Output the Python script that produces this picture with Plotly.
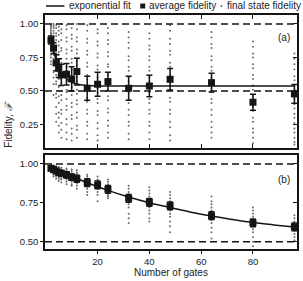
import plotly.graph_objects as go

# ---------------- data ----------------
gates = [2, 3, 4, 5, 6, 8, 10, 12, 16, 20, 24, 32, 40, 48, 64, 80, 96]

# panel (a): average fidelity and error
avg_a = [0.88, 0.82, 0.71, 0.67, 0.62, 0.625, 0.59, 0.645, 0.52, 0.55, 0.57, 0.52, 0.537, 0.587, 0.562, 0.416, 0.478]
err_a = [0.03, 0.04, 0.06, 0.07, 0.08, 0.08, 0.09, 0.10, 0.09, 0.09, 0.07, 0.09, 0.08, 0.08, 0.07, 0.06, 0.07]

# panel (b): average fidelity and error
avg_b = [0.972, 0.965, 0.955, 0.945, 0.94, 0.93, 0.915, 0.905, 0.88, 0.865, 0.837, 0.779, 0.753, 0.731, 0.667, 0.621, 0.596]
err_b = [0.012, 0.014, 0.016, 0.018, 0.018, 0.02, 0.02, 0.022, 0.025, 0.025, 0.025, 0.025, 0.025, 0.025, 0.025, 0.025, 0.025]

# exponential fit curves
fit_a_x = [2, 3, 4, 5, 6, 7, 8, 10, 12, 14, 16, 20, 24, 32, 40, 48, 64, 80, 96]
fit_a_y = [0.88, 0.80, 0.73, 0.68, 0.64, 0.61, 0.59, 0.565, 0.552, 0.545, 0.541, 0.538, 0.537, 0.537, 0.537, 0.537, 0.537, 0.537, 0.537]
fit_b_x = [2, 4, 6, 8, 12, 16, 20, 24, 32, 40, 48, 56, 64, 72, 80, 88, 96]
fit_b_y = [0.982, 0.966, 0.951, 0.935, 0.906, 0.879, 0.854, 0.830, 0.787, 0.750, 0.720, 0.690, 0.665, 0.643, 0.623, 0.608, 0.594]

# final state fidelities, one list per gate count
final_a = [
    [1.00, 0.99, 0.98, 0.97, 0.955, 0.94, 0.93, 0.92, 0.90, 0.89, 0.87, 0.86, 0.84, 0.82, 0.80, 0.77, 0.75, 0.72, 0.70],
    [1.00, 0.985, 0.97, 0.95, 0.93, 0.91, 0.90, 0.87, 0.85, 0.82, 0.80, 0.78, 0.74, 0.71, 0.69, 0.64, 0.60, 0.55, 0.47],
    [0.99, 0.97, 0.93, 0.91, 0.88, 0.84, 0.82, 0.78, 0.76, 0.72, 0.70, 0.65, 0.62, 0.57, 0.55, 0.48, 0.45, 0.38, 0.33, 0.27],
    [0.98, 0.95, 0.92, 0.87, 0.84, 0.79, 0.77, 0.72, 0.69, 0.66, 0.61, 0.59, 0.53, 0.50, 0.46, 0.41, 0.34, 0.30, 0.24, 0.19],
    [1.00, 0.96, 0.93, 0.88, 0.82, 0.80, 0.74, 0.71, 0.68, 0.62, 0.59, 0.56, 0.50, 0.47, 0.43, 0.36, 0.33, 0.26, 0.21, 0.15],
    [0.99, 0.96, 0.90, 0.87, 0.81, 0.78, 0.74, 0.68, 0.65, 0.60, 0.57, 0.51, 0.49, 0.44, 0.39, 0.36, 0.29, 0.25, 0.19, 0.14],
    [0.97, 0.92, 0.89, 0.83, 0.80, 0.74, 0.71, 0.66, 0.61, 0.59, 0.53, 0.50, 0.47, 0.41, 0.38, 0.32, 0.29, 0.22, 0.18, 0.13],
    [1.00, 0.96, 0.90, 0.87, 0.81, 0.78, 0.72, 0.69, 0.63, 0.60, 0.57, 0.51, 0.48, 0.43, 0.40, 0.34, 0.30, 0.24, 0.21, 0.15],
    [0.99, 0.95, 0.89, 0.86, 0.80, 0.77, 0.71, 0.68, 0.62, 0.59, 0.53, 0.50, 0.45, 0.42, 0.36, 0.33, 0.27, 0.24, 0.18, 0.14],
    [0.96, 0.93, 0.87, 0.84, 0.78, 0.75, 0.69, 0.66, 0.60, 0.57, 0.52, 0.49, 0.44, 0.41, 0.35, 0.32, 0.26, 0.22, 0.17, 0.13],
    [0.97, 0.93, 0.88, 0.85, 0.79, 0.76, 0.70, 0.68, 0.62, 0.59, 0.54, 0.51, 0.46, 0.43, 0.37, 0.34, 0.28, 0.24, 0.19, 0.15],
    [0.94, 0.90, 0.86, 0.82, 0.76, 0.73, 0.68, 0.65, 0.60, 0.57, 0.52, 0.49, 0.44, 0.41, 0.36, 0.32, 0.27, 0.24, 0.18, 0.14],
    [0.93, 0.89, 0.84, 0.81, 0.76, 0.73, 0.68, 0.65, 0.60, 0.57, 0.52, 0.49, 0.44, 0.41, 0.36, 0.33, 0.27, 0.24, 0.19, 0.14],
    [0.99, 0.95, 0.89, 0.85, 0.80, 0.77, 0.71, 0.68, 0.62, 0.59, 0.54, 0.51, 0.45, 0.42, 0.36, 0.33, 0.27, 0.23, 0.17, 0.13],
    [0.94, 0.90, 0.85, 0.82, 0.76, 0.73, 0.68, 0.65, 0.60, 0.57, 0.52, 0.49, 0.44, 0.41, 0.36, 0.32, 0.27, 0.23, 0.19, 0.15],
    [0.87, 0.83, 0.78, 0.75, 0.70, 0.67, 0.62, 0.59, 0.54, 0.51, 0.46, 0.43, 0.38, 0.35, 0.30, 0.27, 0.22, 0.19, 0.15, 0.11],
    [0.78, 0.74, 0.70, 0.66, 0.61, 0.58, 0.54, 0.51, 0.47, 0.44, 0.40, 0.37, 0.33, 0.30, 0.26, 0.22, 0.19, 0.15, 0.12, 0.10],
]
final_b = [
    [0.995, 0.99, 0.985, 0.98, 0.975, 0.97, 0.965, 0.96, 0.955, 0.945],
    [0.99, 0.985, 0.975, 0.97, 0.96, 0.955, 0.95, 0.94, 0.93, 0.92],
    [0.985, 0.975, 0.97, 0.96, 0.955, 0.945, 0.94, 0.93, 0.92, 0.905],
    [0.98, 0.97, 0.96, 0.955, 0.945, 0.935, 0.925, 0.915, 0.905, 0.89],
    [0.975, 0.965, 0.955, 0.945, 0.94, 0.93, 0.92, 0.91, 0.90, 0.88],
    [0.97, 0.96, 0.95, 0.94, 0.93, 0.92, 0.91, 0.90, 0.885, 0.87],
    [0.965, 0.955, 0.94, 0.93, 0.92, 0.91, 0.90, 0.885, 0.87, 0.86],
    [0.96, 0.945, 0.935, 0.92, 0.91, 0.90, 0.89, 0.875, 0.86, 0.84],
    [0.93, 0.92, 0.905, 0.89, 0.88, 0.87, 0.855, 0.84, 0.82, 0.80],
    [0.92, 0.90, 0.89, 0.875, 0.865, 0.85, 0.84, 0.82, 0.80, 0.76],
    [0.90, 0.885, 0.87, 0.86, 0.845, 0.83, 0.815, 0.80, 0.79, 0.78],
    [0.86, 0.84, 0.82, 0.805, 0.79, 0.775, 0.76, 0.74, 0.72, 0.68, 0.65, 0.62],
    [0.85, 0.83, 0.81, 0.79, 0.77, 0.755, 0.74, 0.72, 0.70, 0.68, 0.65, 0.63],
    [0.82, 0.80, 0.78, 0.76, 0.74, 0.72, 0.70, 0.68, 0.66, 0.63, 0.60, 0.56],
    [0.79, 0.76, 0.74, 0.72, 0.70, 0.68, 0.66, 0.64, 0.62, 0.59, 0.56, 0.52],
    [0.72, 0.70, 0.68, 0.66, 0.64, 0.62, 0.60, 0.58, 0.56, 0.53, 0.50, 0.47],
    [0.67, 0.65, 0.63, 0.615, 0.60, 0.585, 0.57, 0.55, 0.53, 0.51],
]

ticks_x = [20, 40, 60, 80]
ticks_a = [0.25, 0.50, 0.75, 1.00]
ticks_b = [0.50, 0.75, 1.00]
ref_levels = [0.5, 1.0]

# ---------------- figure ----------------
INK = "#151515"
DOT = "#6a6a6a"
FONT = "Liberation Sans"
XR = [-0.3, 97]
YA = [0.075, 1.067]
YB = [0.453, 1.058]


def flatten(gs, groups):
    xs, ys = [], []
    for g, vals in zip(gs, groups):
        for v in vals:
            xs.append(g)
            ys.append(v)
    return xs, ys


fig = go.Figure()
for xa, ya, fin, fx, fy, avg, err in [
    ("x", "y", final_a, fit_a_x, fit_a_y, avg_a, err_a),
    ("x2", "y2", final_b, fit_b_x, fit_b_y, avg_b, err_b),
]:
    dx, dy = flatten(gates, fin)
    fig.add_trace(go.Scatter(x=dx, y=dy, mode="markers", xaxis=xa, yaxis=ya,
                             marker=dict(size=2, color=DOT, line=dict(width=0)),
                             showlegend=False, hoverinfo="skip"))
    fig.add_trace(go.Scatter(x=fx, y=fy, mode="lines", xaxis=xa, yaxis=ya,
                             line=dict(color=INK, width=1.5, shape="spline"),
                             showlegend=False))
    fig.add_trace(go.Scatter(x=gates, y=avg, mode="markers", xaxis=xa, yaxis=ya,
                             marker=dict(symbol="square", size=7, color=INK),
                             error_y=dict(type="data", array=err, color=INK,
                                          thickness=1.5, width=3),
                             showlegend=False))
# dummy traces for right-side inside ticks
fig.add_trace(go.Scatter(x=[None], y=[None], xaxis="x", yaxis="y3", showlegend=False))
fig.add_trace(go.Scatter(x=[None], y=[None], xaxis="x2", yaxis="y4", showlegend=False))

# reference dashed lines
for yref in ["y", "y2"]:
    for lv in ref_levels:
        fig.add_shape(type="line", xref="x domain" if yref == "y" else "x2 domain",
                      yref=yref, x0=0, x1=1, y0=lv, y1=lv,
                      line=dict(color=INK, width=1.5, dash="7px,4px"))

axis_common = dict(showgrid=False, zeroline=False, showline=True, linecolor=INK,
                   linewidth=1.5, tickcolor=INK, tickwidth=1,
                   tickfont=dict(family=FONT, size=9.5, color="#222"))

fig.update_layout(
    width=303, height=281,
    margin=dict(l=45, r=4, t=15, b=32),
    paper_bgcolor="white", plot_bgcolor="white",
    showlegend=False,
    xaxis=dict(domain=[0, 1], anchor="y", range=XR, tickvals=ticks_x,
               showticklabels=False, ticks="inside", ticklen=4, mirror="ticks",
               **axis_common),
    yaxis=dict(domain=[0.432, 1], anchor="x", range=YA, tickvals=ticks_a,
               tickformat=".2f", ticks="outside", ticklen=3, mirror=True,
               **axis_common),
    yaxis3=dict(overlaying="y", side="right", anchor="x", range=YA, tickvals=ticks_a,
                showticklabels=False, ticks="inside", ticklen=4, showgrid=False,
                zeroline=False, showline=False, tickcolor=INK),
    xaxis2=dict(domain=[0, 1], anchor="y2", range=XR, tickvals=ticks_x,
                ticks="outside", ticklen=3, mirror=True, **axis_common),
    yaxis2=dict(domain=[0, 0.402], anchor="x2", range=YB, tickvals=ticks_b,
                tickformat=".2f", ticks="outside", ticklen=3, mirror=True,
                **axis_common),
    yaxis4=dict(overlaying="y2", side="right", anchor="x2", range=YB, tickvals=ticks_b,
                showticklabels=False, ticks="inside", ticklen=4, showgrid=False,
                zeroline=False, showline=False, tickcolor=INK),
)

txt = dict(family=FONT, size=10, color="#222")
LEG_Y = 1.0385
# manual legend
fig.add_shape(type="line", xref="paper", yref="paper", x0=0.004, x1=0.077,
              y0=LEG_Y, y1=LEG_Y, line=dict(color=INK, width=1.5))
fig.add_shape(type="rect", xref="paper", yref="paper", x0=0.378, x1=0.3976,
              y0=1.0278, y1=1.049, line=dict(width=0), fillcolor=INK)
fig.add_shape(type="circle", xref="paper", yref="paper", x0=0.6957, x1=0.7035,
              y0=1.0342, y1=1.0427, line=dict(width=0), fillcolor=DOT)
for xpos, label in [(0.087, "exponential fit"), (0.405, "average fidelity"),
                    (0.716, "final state fidelity")]:
    fig.add_annotation(x=xpos, y=LEG_Y, xref="paper", yref="paper", text=label,
                       showarrow=False, xanchor="left", yanchor="middle", font=txt)

# panel labels
fig.add_annotation(x=0.98, y=0.904, xref="paper", yref="paper", text="(a)",
                   showarrow=False, xanchor="right", yanchor="middle", font=txt)
fig.add_annotation(x=0.98, y=0.299, xref="paper", yref="paper", text="(b)",
                   showarrow=False, xanchor="right", yanchor="middle", font=txt)
# axis titles
fig.add_annotation(x=-0.1476, y=0.534, xref="paper", yref="paper", text="Fidelity, <i>ℱ</i>",
                   textangle=-90, showarrow=False, xanchor="center", yanchor="middle", font=txt)
fig.add_annotation(x=0.5, y=-0.0983, xref="paper", yref="paper", text="Number of gates",
                   showarrow=False, xanchor="center", yanchor="middle", font=txt)

fig.write_html("out.html", config={"displayModeBar": False},
               post_script="document.body.style.margin='0';")
